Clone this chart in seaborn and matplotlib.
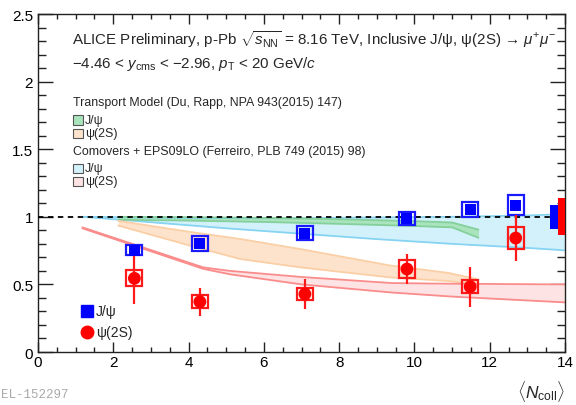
import numpy as np
import pandas as pd
import matplotlib
matplotlib.use("Agg")
import matplotlib.pyplot as plt
from matplotlib.patches import Rectangle
from matplotlib.ticker import MultipleLocator
import seaborn as sns

# ---- measured nuclear modification factors vs <Ncoll> ----
ncoll = [2.56, 4.30, 7.09, 9.80, 11.48, 12.69]
q_jpsi = [0.754, 0.800, 0.878, 0.989, 1.053, 1.087]
q_jpsi_stat = [0.015, 0.015, 0.015, 0.015, 0.02, 0.02]
q_jpsi_syst = [0.037, 0.055, 0.052, 0.048, 0.053, 0.071]
q_psi2s = [0.545, 0.372, 0.429, 0.614, 0.483, 0.843]
q_psi2s_stat = [0.19, 0.105, 0.11, 0.11, 0.147, 0.17]
q_psi2s_syst = [0.060, 0.050, 0.042, 0.067, 0.050, 0.083]
glob_jpsi = 0.09
glob_psi2s = 0.136

# ---- model bands ----
tm_jpsi_x = [2.13, 4.0, 6.0, 8.0, 10.0, 11.0, 11.7]
tm_jpsi_hi = [1.0, 0.997, 0.992, 0.982, 0.968, 0.958, 0.905]
tm_jpsi_lo = [0.978, 0.972, 0.962, 0.948, 0.932, 0.922, 0.845]

tm_psi2s_x = [2.13, 4.0, 5.37, 7.0, 9.35, 10.9, 11.65]
tm_psi2s_hi = [0.97, 0.89, 0.836, 0.76, 0.64, 0.585, 0.54]
tm_psi2s_lo = [0.935, 0.79, 0.688, 0.625, 0.552, 0.525, 0.50]

co_jpsi_x = [1.2, 3.0, 5.0, 7.0, 9.0, 11.0, 13.0, 14.0]
co_jpsi_hi = [1.0, 0.995, 0.99, 0.99, 0.995, 1.0, 1.01, 1.02]
co_jpsi_lo = [1.0, 0.96, 0.915, 0.875, 0.835, 0.80, 0.77, 0.752]

co_psi2s_x = [1.18, 4.39, 5.1, 7.0, 9.4, 11.0, 14.0]
co_psi2s_hi = [0.922, 0.626, 0.60, 0.555, 0.51, 0.505, 0.50]
co_psi2s_lo = [0.915, 0.615, 0.575, 0.50, 0.44, 0.41, 0.367]

sns.set_style("ticks")
plt.rcParams["font.family"] = ["Liberation Sans", "DejaVu Sans"]
plt.rcParams["mathtext.fontset"] = "custom"
plt.rcParams["mathtext.rm"] = "Liberation Sans"
plt.rcParams["mathtext.it"] = "Liberation Sans:italic"
plt.rcParams["mathtext.bf"] = "Liberation Sans:bold"

fig = plt.figure(figsize=(5.76, 4.06), dpi=100)
ax = fig.add_axes([0.066, 0.1305, 0.915, 0.8325])

bands = [
    (co_jpsi_x, co_jpsi_lo, co_jpsi_hi, "#d3f1fb", "#86d4f2"),
    (tm_jpsi_x, tm_jpsi_lo, tm_jpsi_hi, "#a9e4bd", "#84d09c"),
    (tm_psi2s_x, tm_psi2s_lo, tm_psi2s_hi, "#fde3cc", "#fbcfa6"),
    (co_psi2s_x, co_psi2s_lo, co_psi2s_hi, "#fde3e3", "#fb8c8c"),
]
for x, lo, hi, fc, ec in bands:
    ax.fill_between(x, lo, hi, color=fc, lw=0, zorder=1)
    sns.lineplot(x=x, y=hi, ax=ax, color=ec, lw=1.3, zorder=2, sort=False)
    sns.lineplot(x=x, y=lo, ax=ax, color=ec, lw=1.3, zorder=2, sort=False)

ax.axhline(1.0, color="black", lw=1.3, ls=(0, (3, 2.5)), zorder=3)

# systematic boxes
bw = 0.21
for xi, yi, s in zip(ncoll, q_jpsi, q_jpsi_syst):
    ax.add_patch(Rectangle((xi - bw, yi - s), 2 * bw, 2 * s, fill=False,
                           ec="#1a1aff", lw=1.6, zorder=5))
for xi, yi, s in zip(ncoll, q_psi2s, q_psi2s_syst):
    ax.add_patch(Rectangle((xi - bw, yi - s), 2 * bw, 2 * s, fill=False,
                           ec="#ff1a1a", lw=1.6, zorder=5))

# statistical bars
ax.errorbar(ncoll, q_psi2s, yerr=q_psi2s_stat, fmt="none", ecolor="#ff1a1a",
            elinewidth=1.6, capsize=0, zorder=6)
ax.errorbar(ncoll, q_jpsi, yerr=q_jpsi_stat, fmt="none", ecolor="#0000ff",
            elinewidth=1.6, capsize=0, zorder=6)

df_j = pd.DataFrame({"ncoll": ncoll, "q": q_jpsi})
df_p = pd.DataFrame({"ncoll": ncoll, "q": q_psi2s})
sns.scatterplot(data=df_j, x="ncoll", y="q", ax=ax, marker="s", s=64,
                color="#0000ff", edgecolor="none", zorder=7)
sns.scatterplot(data=df_p, x="ncoll", y="q", ax=ax, marker="o", s=85,
                color="#ff0000", edgecolor="none", zorder=7)

# global uncertainties
ax.add_patch(Rectangle((13.6, 1 - glob_jpsi), 0.2, 2 * glob_jpsi,
                       color="#0000ff", lw=0, zorder=4))
ax.add_patch(Rectangle((13.8, 1 - glob_psi2s), 0.2, 2 * glob_psi2s,
                       color="#ff0000", lw=0, zorder=4))

ax.set_xlim(0, 14)
ax.set_ylim(0, 2.5)
ax.set_xlabel("")
ax.set_ylabel("")
ax.xaxis.set_major_locator(MultipleLocator(2))
ax.xaxis.set_minor_locator(MultipleLocator(0.5))
ax.yaxis.set_major_locator(MultipleLocator(0.5))
ax.yaxis.set_minor_locator(MultipleLocator(0.1))
ax.yaxis.set_major_formatter(plt.FuncFormatter(lambda v, p: f"{v:g}"))
for side in ax.spines.values():
    side.set_color("#222222")
    side.set_linewidth(1.0)
ax.tick_params(which="both", direction="in", top=True, right=True,
               colors="#222222", labelcolor="black", labelsize=11)
ax.tick_params(axis="y", which="major", length=11, width=1)
ax.tick_params(axis="y", which="minor", length=6, width=1)
ax.tick_params(axis="x", which="major", length=7, width=1)
ax.tick_params(axis="x", which="minor", length=3.5, width=1)
ax.tick_params(axis="x", pad=2)

fig.text(72 / 576, 1 - 40 / 406,
         r"ALICE Preliminary, p-Pb $\sqrt{s_{\rm NN}}$ = 8.16 TeV, Inclusive J/ψ, ψ(2S) → $\mu^{+}\mu^{-}$",
         fontsize=10.9, va="center", ha="left")
fig.text(72 / 576, 1 - 64 / 406,
         r"−4.46 < $y_{\rm cms}$ < −2.96, $p_{\rm T}$ < 20 GeV/$c$",
         fontsize=10.9, va="center", ha="left")

fig.text(73 / 576, 1 - 103 / 406, "Transport Model (Du, Rapp, NPA 943(2015) 147)",
         fontsize=8.9, va="center", ha="left")
fig.text(73 / 576, 1 - 152 / 406, "Comovers + EPS09LO (Ferreiro, PLB 749 (2015) 98)",
         fontsize=8.9, va="center", ha="left")
legend_rows = [(121, "#a9e4bd", "J/ψ"), (134, "#fde3cc", "ψ(2S)"),
               (169, "#d3f1fb", "J/ψ"), (182, "#fde3e3", "ψ(2S)")]
for yc, fc, lab in legend_rows:
    fig.patches.append(Rectangle((73 / 576, 1 - (yc + 4.5) / 406), 10 / 576, 9 / 406,
                                 transform=fig.transFigure, fc=fc, ec="#555555",
                                 lw=0.8))
    fig.text(85 / 576, 1 - yc / 406, lab, fontsize=8.9, va="center", ha="left")

# marker legend
fig.lines.append(plt.Line2D([87 / 576], [1 - 312 / 406], transform=fig.transFigure,
                            marker="s", ms=8, color="#0000ff", ls="none"))
fig.lines.append(plt.Line2D([87 / 576], [1 - 333 / 406], transform=fig.transFigure,
                            marker="o", ms=9, color="#ff0000", ls="none"))
fig.text(96 / 576, 1 - 312 / 406, "J/ψ", fontsize=10, va="center", ha="left")
fig.text(96 / 576, 1 - 333 / 406, "ψ(2S)", fontsize=10, va="center", ha="left")

fig.text(565 / 576, 1 - 392 / 406, r"$\langle N_{\rm coll}\rangle$",
         fontsize=12.5, ha="right", va="center")
fig.text(1 / 576, 1 - 395 / 406, "EL-152297", family="Liberation Mono",
         fontsize=9, color="#aaaaaa", ha="left", va="center")

fig.savefig("out.png", dpi=100)
